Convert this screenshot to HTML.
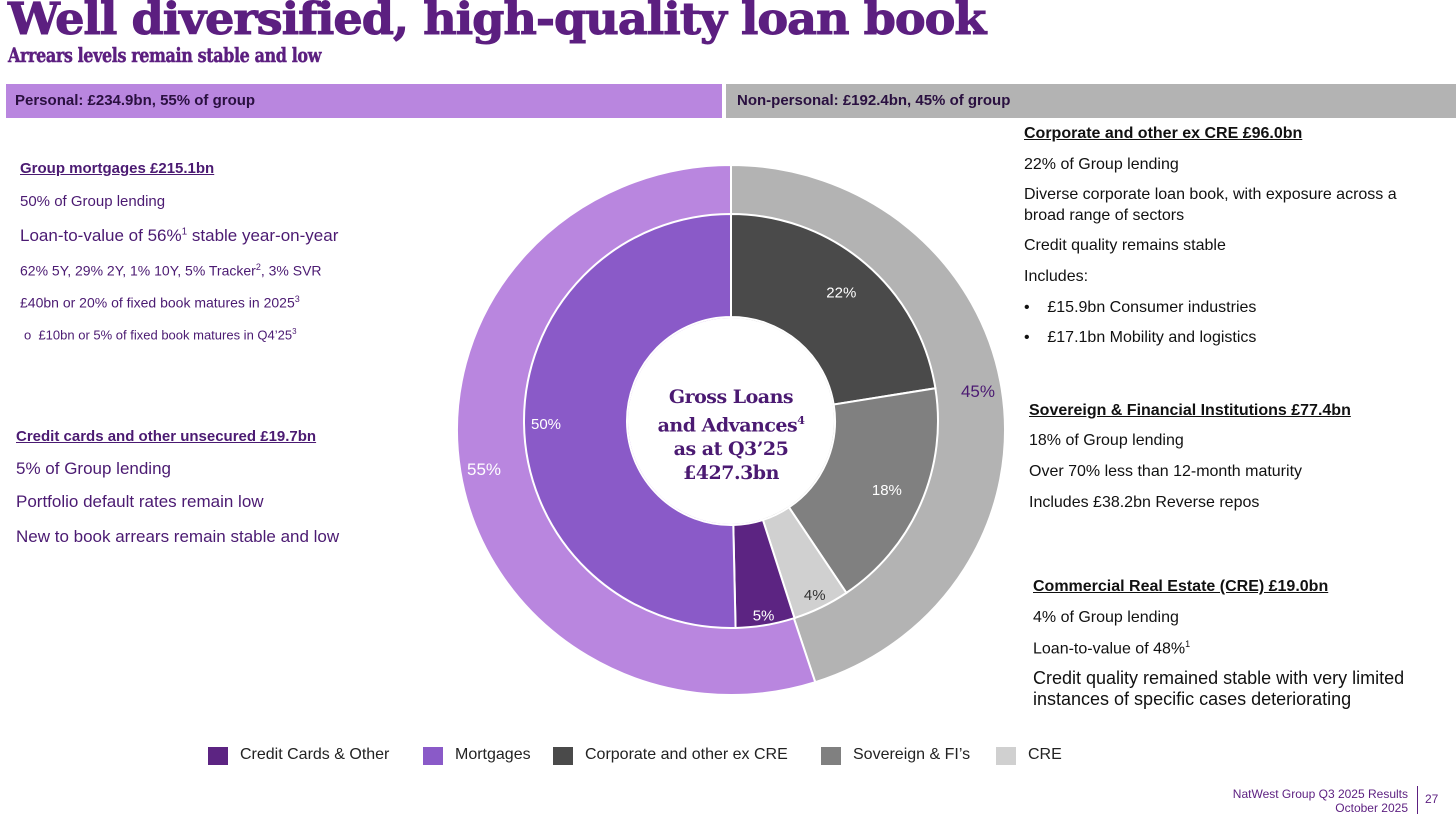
<!DOCTYPE html>
<html><head><meta charset="utf-8">
<style>
body{margin:0;width:1456px;height:819px;background:#fff;position:relative;overflow:hidden;font-family:"Liberation Sans",sans-serif;}
.a{position:absolute;white-space:nowrap;}
.p{color:#4b1a72;}
.k{color:#111;}
h1{position:absolute;left:8px;top:-6px;margin:0;font:900 44px "DejaVu Serif",serif;color:#5c1f80;letter-spacing:-1px;transform-origin:0 0;transform:scaleX(1.05);-webkit-text-stroke:1px #5c1f80;}
h2{position:absolute;left:8px;top:43px;margin:0;font:bold 20px "DejaVu Serif",serif;color:#5c1f80;letter-spacing:-0.5px;transform-origin:0 0;transform:scaleX(0.8);-webkit-text-stroke:0.5px #5c1f80;}
.u{text-decoration:underline;font-weight:bold;}
.k .a{font-size:16px;}
.k .a.big{font-size:18px;}
</style></head><body>
<h1>Well diversified, high-quality loan book</h1>
<h2>Arrears levels remain stable and low</h2>
<div class="a" style="left:6px;top:84px;width:716px;height:34px;background:#b986df;"><span style="position:absolute;left:9px;top:8px;font-size:15px;font-weight:bold;color:#2a1040">Personal: £234.9bn, 55% of group</span></div>
<div class="a" style="left:726px;top:84px;width:730px;height:34px;background:#b3b3b3;"><span style="position:absolute;left:11px;top:8px;font-size:15px;font-weight:bold;color:#2a1040">Non-personal: £192.4bn, 45% of group</span></div>

<div class="p">
<div class="a u" style="left:20px;top:160px;font-size:15px">Group mortgages £215.1bn</div>
<div class="a" style="left:20px;top:193px;font-size:15px">50% of Group lending</div>
<div class="a" style="left:20px;top:226px;font-size:17px">Loan-to-value of 56%<sup style="font-size:10px">1</sup> stable year-on-year</div>
<div class="a" style="left:20px;top:262px;font-size:14px">62% 5Y, 29% 2Y, 1% 10Y, 5% Tracker<sup style="font-size:9px">2</sup>, 3% SVR</div>
<div class="a" style="left:20px;top:294px;font-size:14px">£40bn or 20% of fixed book matures in 2025<sup style="font-size:9px">3</sup></div>
<div class="a" style="left:24px;top:327px;font-size:13px">o&nbsp; £10bn or 5% of fixed book matures in Q4’25<sup style="font-size:8px">3</sup></div>
<div class="a u" style="left:16px;top:428px;font-size:15px">Credit cards and other unsecured £19.7bn</div>
<div class="a" style="left:16px;top:459px;font-size:17px">5% of Group lending</div>
<div class="a" style="left:16px;top:492px;font-size:17px">Portfolio default rates remain low</div>
<div class="a" style="left:16px;top:527px;font-size:17px">New to book arrears remain stable and low</div>
</div>

<div class="k">
<div class="a u" style="left:1024px;top:125px">Corporate and other ex CRE £96.0bn</div>
<div class="a" style="left:1024px;top:156px">22% of Group lending</div>
<div class="a" style="left:1024px;top:186px">Diverse corporate loan book, with exposure across a</div>
<div class="a" style="left:1024px;top:207px">broad range of sectors</div>
<div class="a" style="left:1024px;top:237px">Credit quality remains stable</div>
<div class="a" style="left:1024px;top:268px">Includes:</div>
<div class="a" style="left:1024px;top:299px">•&nbsp;&nbsp;&nbsp; £15.9bn Consumer industries</div>
<div class="a" style="left:1024px;top:329px">•&nbsp;&nbsp;&nbsp; £17.1bn Mobility and logistics</div>
<div class="a u" style="left:1029px;top:402px">Sovereign &amp; Financial Institutions £77.4bn</div>
<div class="a" style="left:1029px;top:432px">18% of Group lending</div>
<div class="a" style="left:1029px;top:463px">Over 70% less than 12-month maturity</div>
<div class="a" style="left:1029px;top:494px">Includes £38.2bn Reverse repos</div>
<div class="a u" style="left:1033px;top:578px">Commercial Real Estate (CRE) £19.0bn</div>
<div class="a" style="left:1033px;top:609px">4% of Group lending</div>
<div class="a" style="left:1033px;top:639px">Loan-to-value of 48%<sup style="font-size:9px">1</sup></div>
<div class="a big" style="left:1033px;top:668px">Credit quality remained stable with very limited</div>
<div class="a big" style="left:1033px;top:689px">instances of specific cases deteriorating</div>
</div>

<svg id="chart" width="1456" height="819" style="position:absolute;left:0;top:0"></svg>

<div class="a" style="left:631px;top:385px;width:200px;text-align:center;font:bold 19px/24px 'DejaVu Serif',serif;color:#4b1a72;letter-spacing:-0.5px">Gross Loans<br>and Advances<sup style="font-size:11px">4</sup><br>as at Q3’25<br>£427.3bn</div>

<div>
<div class="a" style="left:208px;top:747px;width:20px;height:18px;background:#5c2482"></div><div class="a" style="left:240px;top:746px;font-size:16px;color:#222">Credit Cards &amp; Other</div>
<div class="a" style="left:423px;top:747px;width:20px;height:18px;background:#8a5ac8"></div><div class="a" style="left:455px;top:746px;font-size:16px;color:#222">Mortgages</div>
<div class="a" style="left:553px;top:747px;width:20px;height:18px;background:#4a4a4a"></div><div class="a" style="left:585px;top:746px;font-size:16px;color:#222">Corporate and other ex CRE</div>
<div class="a" style="left:821px;top:747px;width:20px;height:18px;background:#808080"></div><div class="a" style="left:853px;top:746px;font-size:16px;color:#222">Sovereign &amp; FI’s</div>
<div class="a" style="left:996px;top:747px;width:20px;height:18px;background:#d0d0d0"></div><div class="a" style="left:1028px;top:746px;font-size:16px;color:#222">CRE</div>
</div>

<div class="a" style="right:48px;top:787px;text-align:right;font-size:12px;line-height:14px;color:#5c1f80">NatWest Group Q3 2025 Results<br>October 2025</div>
<div class="a" style="left:1417px;top:786px;width:1px;height:28px;background:#5c1f80"></div>
<div class="a" style="left:1425px;top:792px;font-size:12px;color:#5c1f80">27</div>

<script>
const outerCats=["Non-personal","Personal"];
const outerVals=[192.4,234.9];
const outerLabels=["45%","55%"];
const innerCats=["Corporate and other ex CRE","Sovereign & FI's","CRE","Credit Cards & Other","Mortgages"];
const innerVals=[96.0,77.4,19.0,19.7,215.1];
const innerLabels=["22%","18%","4%","5%","50%"];
const outerColors=["#b3b3b3","#b986df"];
const innerColors=["#4a4a4a","#808080","#d0d0d0","#5c2482","#8a5ac8"];
const innerTextColors=["#fff","#fff","#333","#fff","#fff"];
const NS="http://www.w3.org/2000/svg";
const svg=document.getElementById('chart');
function pt(cx,cy,rx,ry,a){return [cx+rx*Math.sin(a),cy-ry*Math.cos(a)];}
function arc(cx,cy,rx,ry,r0x,r0y,a0,a1){
 const L=(a1-a0)>Math.PI?1:0;
 const p0=pt(cx,cy,rx,ry,a0),p1=pt(cx,cy,rx,ry,a1),q1=pt(cx,cy,r0x,r0y,a1),q0=pt(cx,cy,r0x,r0y,a0);
 if(r0x<=0) return `M${cx},${cy}L${p0}A${rx},${ry} 0 ${L} 1 ${p1}Z`;
 return `M${p0}A${rx},${ry} 0 ${L} 1 ${p1}L${q1}A${r0x},${r0y} 0 ${L} 0 ${q0}Z`;
}
function ring(vals,colors,cx,cy,rx,ry,r0,name,labels,lr,tc,fs){
 const tot=vals.reduce((a,b)=>a+b,0);let a=0;
 vals.forEach((v,i)=>{
  const a1=a+v/tot*2*Math.PI;
  const p=document.createElementNS(NS,'path');
  p.setAttribute('d',arc(cx,cy,rx,ry,r0,r0,a,a1));
  p.setAttribute('fill',colors[i]);p.setAttribute('stroke','#fff');p.setAttribute('stroke-width','2');
  
  
  svg.appendChild(p);
  const m=(a+a1)/2;const lp=pt(cx,cy,lr[i],lr[i],m);
  const t=document.createElementNS(NS,'text');
  t.setAttribute('x',lp[0]);t.setAttribute('y',lp[1]+6);t.setAttribute('text-anchor','middle');
  t.setAttribute('font-family','Liberation Sans, sans-serif');t.setAttribute('font-size',fs);t.setAttribute('fill',tc[i]);
  t.textContent=labels[i];
  
  
  svg.appendChild(t);
  a=a1;
 });
}
ring(outerVals,outerColors,731,430,274,265,0,'outer-ring',outerLabels,[250,250],["#4b1a72","#fff"],'17');
ring(innerVals,innerColors,731,421,207,207,104,'inner-ring',innerLabels,[170,170,192,196,185],innerTextColors,'15');
const c=document.createElementNS(NS,'circle');
c.setAttribute('cx',731);c.setAttribute('cy',421);c.setAttribute('r',103);c.setAttribute('fill','#fff');


svg.appendChild(c);
</script>
</body></html>
